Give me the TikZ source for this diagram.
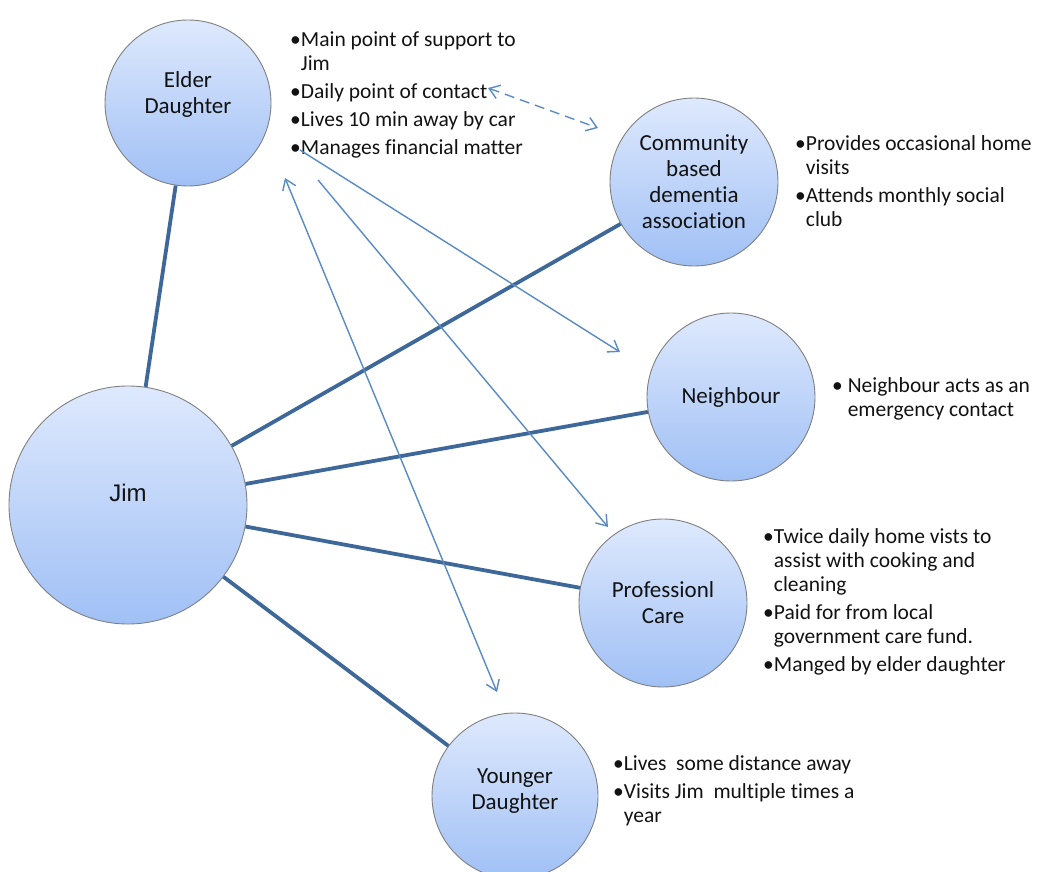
\documentclass[tikz,border=0pt]{standalone}
\usepackage{fontspec}
\setmainfont{Carlito}[Ligatures=NoCommon]
\newfontfamily\arialfont{Liberation Sans}
\usetikzlibrary{arrows.meta}

\definecolor{linkblue}{RGB}{61,104,153}
\definecolor{arrowblue}{RGB}{88,138,198}
\definecolor{rimgrey}{RGB}{128,128,128}
\definecolor{fillTop}{RGB}{222,233,253}
\definecolor{fillBot}{RGB}{160,192,245}
\definecolor{inkgrey}{RGB}{18,18,18}

% hanging indent for wrapped bullet lines
\newcommand\ind{\phantom{•}}

\begin{document}
\begin{tikzpicture}[x=1pt,y=-1pt,
  person/.style={circle, draw=rimgrey, line width=0.9pt,
    top color=fillTop, bottom color=fillBot, inner sep=0pt,
    align=center, text=inkgrey, font=\fontsize{23}{26}\selectfont},
  tie/.style={draw=linkblue, line width=3.8pt},
  barb/.tip={Straight Barb[length=10pt,width=14pt]},
  relate/.style={draw=arrowblue, line width=1.4pt, -barb},
  both/.style={relate, barb-barb},
  note/.style={anchor=north west, align=left, inner sep=0pt,
    text=inkgrey, font=\fontsize{21.5}{24}\selectfont}
]
\useasboundingbox (0,0) rectangle (1046,872);

% people and services
\node[person, minimum size=166pt, text depth=20pt] (elder) at (188,103) {Elder\\Daughter};
\node[person, minimum size=168pt] (comm) at (694,182) {Community\\based\\dementia\\association};
\node[person, minimum size=168pt] (neigh) at (731,397) {Neighbour};
\node[person, minimum size=168pt] (prof) at (663,603) {Professionl\\Care};
\node[person, minimum size=166pt, text depth=14pt] (young) at (515,796) {Younger\\Daughter};
\node[person, minimum size=238pt, text height=17pt, text depth=25pt,
  font=\arialfont\fontsize{24}{28}\selectfont] (jim) at (128,505) {Jim};

% direct ties to Jim
\draw[tie] (elder) -- (jim);
\draw[tie] (jim) -- (comm);
\draw[tie] (jim) -- (neigh);
\draw[tie] (jim) -- (prof);
\draw[tie] (jim) -- (young);

% notes
\node[note] (edtext) at (290,29.2) {\strut•Main point of support to\\ \ind Jim\\[4pt]
  •Daily point of contact\\[4pt] •Lives 10 min away by car\\[4pt] •Manages financial matter};
\node[note] (commtext) at (795,133.2) {\strut•Provides occasional home\\ \ind visits\\[4pt]
  •Attends monthly social\\ \ind club};
\node[note] (neightext) at (832,375.2) {\strut• Neighbour acts as an\\ \phantom{• }emergency contact};
\node[note] (proftext) at (763,526.2) {\strut•Twice daily home vists to\\ \ind assist with cooking and\\ \ind cleaning\\[4pt]
  •Paid for from local\\ \ind government care fund.\\[4pt] •Manged by elder daughter};
\node[note] (youngtext) at (613,753.2) {\strut•Lives~ some distance away\\[4pt]
  •Visits Jim~ multiple times a\\ \ind year};

% ends of the elder daughter's links
\coordinate (contactEnd) at (488,88);
\coordinate (commNear) at (598,128);
\coordinate (mgrA) at (300,150);
\coordinate (neighNear) at (620,352);
\coordinate (mgrB) at (318,180);
\coordinate (profNear) at (608,527);
\coordinate (mgrC) at (285,178);
\coordinate (youngNear) at (497,692);

\draw[both, dash pattern=on 10pt off 6pt] (contactEnd) -- (commNear);
\draw[relate] (mgrA) -- (neighNear);
\draw[relate] (mgrB) -- (profNear);
\draw[both] (mgrC) -- (youngNear);
\end{tikzpicture}
\end{document}
